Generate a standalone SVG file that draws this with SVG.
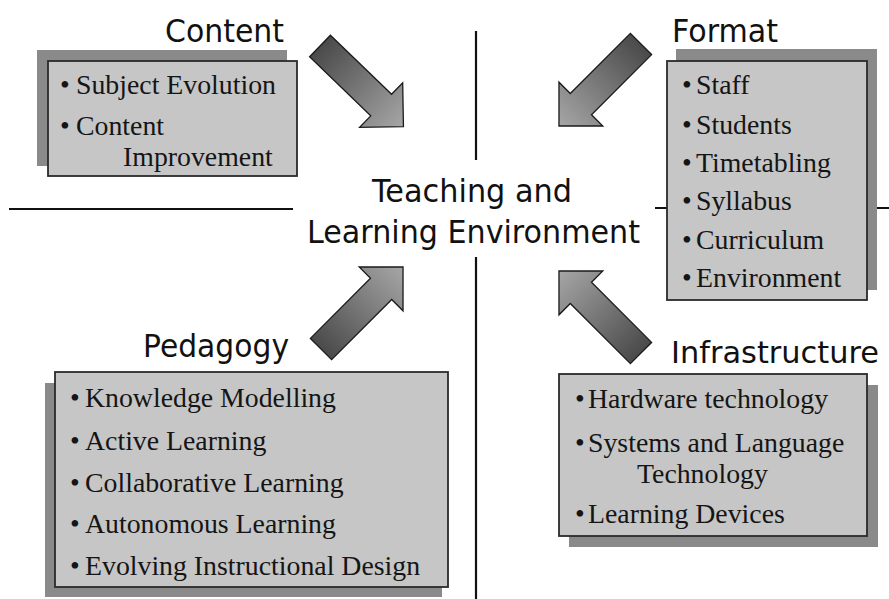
<svg xmlns="http://www.w3.org/2000/svg" width="889" height="599" viewBox="0 0 889 599">
<defs>
<linearGradient id="ag" x1="0" y1="0" x2="1" y2="0">
<stop offset="0" stop-color="#4a4a4a"/>
<stop offset="1" stop-color="#a6a6a6"/>
</linearGradient>
<path id="arrow" d="M0,-15 L85,-15 L85,-31 L116,0 L85,31 L85,15 L0,15 Z"/>
</defs>
<style>
.shadow{fill:#8a8a8a}
.box{fill:#c6c6c6;stroke:#2a2a2a;stroke-width:1.8}
.title{font-family:"DejaVu Sans",Verdana,sans-serif;font-size:32.5px;fill:#111}
.item{font-family:"Liberation Serif","Times New Roman",serif;font-size:27.8px;fill:#151515}
.div{stroke:#111;stroke-width:2.2;fill:none}
.arr{fill:url(#ag);stroke:#1a1a1a;stroke-width:1.3;stroke-linejoin:miter}
</style>
<rect width="889" height="599" fill="#ffffff"/>

<g id="dividers">
<line class="div" x1="9" y1="209" x2="293" y2="209"/>
<line class="div" x1="655" y1="208" x2="889" y2="208"/>
<line class="div" x1="476" y1="31" x2="476" y2="160"/>
<line class="div" x1="476" y1="257" x2="476" y2="599"/>
</g>

<g id="center">
<text class="title" x="372" y="202" textLength="200" lengthAdjust="spacingAndGlyphs">Teaching and</text>
<text class="title" x="307" y="243" textLength="333" lengthAdjust="spacingAndGlyphs">Learning Environment</text>
</g>

<g id="content">
<text class="title" x="165" y="42" textLength="119" lengthAdjust="spacingAndGlyphs">Content</text>
<rect class="shadow" x="37" y="50" width="250" height="116"/>
<rect class="box" x="48" y="61" width="249" height="115"/>
<text class="item" x="60" y="94">•</text><text class="item" x="76" y="94">Subject Evolution</text>
<text class="item" x="60" y="135">•</text><text class="item" x="76" y="135">Content</text>
<text class="item" x="123" y="166">Improvement</text>
</g>

<g id="format">
<text class="title" x="672" y="42" textLength="106" lengthAdjust="spacingAndGlyphs">Format</text>
<rect class="shadow" x="676" y="49" width="201" height="241"/>
<rect class="box" x="667" y="61" width="200" height="239"/>
<text class="item" x="682" y="94">•</text><text class="item" x="696" y="94">Staff</text>
<text class="item" x="682" y="134">•</text><text class="item" x="696" y="134">Students</text>
<text class="item" x="682" y="172">•</text><text class="item" x="696" y="172">Timetabling</text>
<text class="item" x="682" y="210">•</text><text class="item" x="696" y="210">Syllabus</text>
<text class="item" x="682" y="249">•</text><text class="item" x="696" y="249">Curriculum</text>
<text class="item" x="682" y="287">•</text><text class="item" x="696" y="287">Environment</text>
</g>

<g id="pedagogy">
<text class="title" x="143" y="357" textLength="146" lengthAdjust="spacingAndGlyphs">Pedagogy</text>
<rect class="shadow" x="45" y="383" width="397" height="214"/>
<rect class="box" x="55" y="372" width="393" height="215"/>
<text class="item" x="70" y="407">•</text><text class="item" x="85" y="407">Knowledge Modelling</text>
<text class="item" x="70" y="450">•</text><text class="item" x="85" y="450">Active Learning</text>
<text class="item" x="70" y="492">•</text><text class="item" x="85" y="492">Collaborative Learning</text>
<text class="item" x="70" y="533">•</text><text class="item" x="85" y="533">Autonomous Learning</text>
<text class="item" x="70" y="575">•</text><text class="item" x="85" y="575">Evolving Instructional Design</text>
</g>

<g id="infrastructure">
<text class="title" x="671" y="363" style="font-size:30.2px" textLength="208" lengthAdjust="spacingAndGlyphs">Infrastructure</text>
<rect class="shadow" x="569" y="385" width="309" height="162"/>
<rect class="box" x="559" y="374" width="308" height="162"/>
<text class="item" x="575" y="408">•</text><text class="item" x="588" y="408">Hardware technology</text>
<text class="item" x="575" y="452">•</text><text class="item" x="588" y="452">Systems and Language</text>
<text class="item" x="637" y="483">Technology</text>
<text class="item" x="575" y="523">•</text><text class="item" x="588" y="523">Learning Devices</text>
</g>

<g id="connectors">
<use href="#arrow" class="arr" transform="translate(320,46) rotate(44)"/>
<use href="#arrow" class="arr" transform="translate(641,44) rotate(135)"/>
<use href="#arrow" class="arr" transform="translate(321,349) rotate(-45)"/>
<use href="#arrow" class="arr" transform="translate(641,353) rotate(-135)"/>
</g>
</svg>
